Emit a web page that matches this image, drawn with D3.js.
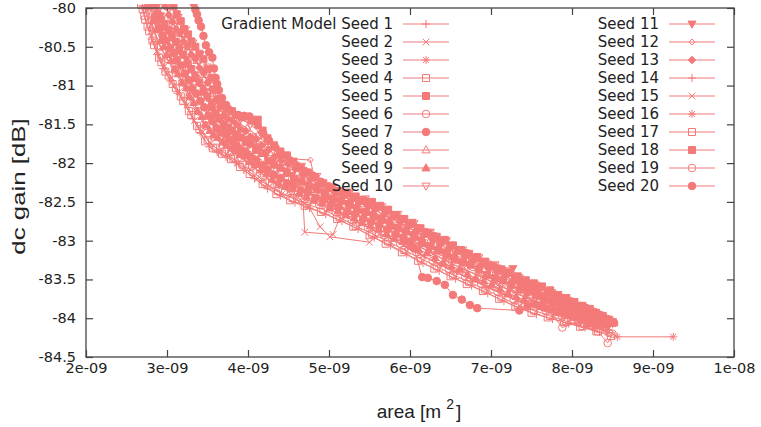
<!DOCTYPE html>
<html>
<head>
<meta charset="utf-8">
<script src="https://cdn.jsdelivr.net/npm/d3@7"></script>
<style>
  html, body { margin: 0; padding: 0; background: #fff; }
  svg { display: block; }
</style>
</head>
<body>
<svg id="chart" width="761" height="427"></svg>
<script>
// Each seed: optimisation trajectory, [area in 1e-9 m^2, dc gain in dB]
const seed1 = [[2.78,-79.95],[2.86,-80.18],[2.95,-80.37],[3.03,-80.5],[3.12,-80.66],[3.21,-80.81],[3.29,-80.95],[3.38,-81.15],[3.47,-81.28],[3.57,-81.47],[3.66,-81.6],[3.77,-81.67],[3.88,-81.78],[3.99,-81.85],[4.12,-81.95],[4.27,-82.1],[4.41,-82.19],[4.58,-82.28],[4.76,-82.38],[4.95,-82.47],[5.14,-82.57],[5.33,-82.66],[5.52,-82.74],[5.72,-82.85],[5.93,-82.94],[6.12,-83.04],[6.31,-83.16],[6.52,-83.24],[6.73,-83.33],[6.94,-83.45],[7.14,-83.55],[7.36,-83.63],[7.57,-83.72],[7.78,-83.82],[7.98,-83.9],[8.18,-83.97],[8.33,-84.05]];
const seed2 = [[2.72,-79.98],[2.8,-80.3],[2.88,-80.55],[2.97,-80.75],[3.06,-80.9],[3.15,-81.08],[3.25,-81.25],[3.34,-81.45],[3.44,-81.6],[3.54,-81.75],[3.65,-81.84],[3.76,-81.9],[3.87,-82.0],[3.98,-82.08],[4.12,-82.2],[4.26,-82.3],[4.42,-82.4],[4.6,-82.47],[4.75,-82.56],[4.89,-82.82],[5.01,-82.95],[5.5,-83.02],[5.62,-82.92],[5.78,-82.98],[5.96,-83.08],[6.16,-83.2],[6.36,-83.3],[6.57,-83.4],[6.77,-83.5],[6.98,-83.6],[7.18,-83.7],[7.39,-83.8],[7.59,-83.87],[7.8,-83.94],[8.01,-84.02],[8.22,-84.09],[8.4,-84.16]];
const seed3 = [[2.96,-79.95],[3.05,-80.14],[3.14,-80.29],[3.24,-80.47],[3.33,-80.63],[3.43,-80.8],[3.52,-80.97],[3.62,-81.23],[3.72,-81.4],[3.83,-81.47],[3.94,-81.57],[4.06,-81.65],[4.2,-81.76],[4.36,-81.92],[4.52,-82.04],[4.7,-82.17],[4.9,-82.3],[5.1,-82.41],[5.3,-82.48],[5.5,-82.57],[5.7,-82.68],[5.9,-82.79],[6.1,-82.9],[6.3,-83.01],[6.5,-83.12],[6.7,-83.22],[6.9,-83.32],[7.1,-83.42],[7.3,-83.52],[7.5,-83.61],[7.7,-83.7],[7.9,-83.79],[8.1,-83.88],[8.28,-83.97],[8.44,-84.05]];
const seed4 = [[2.68,-79.96],[2.72,-80.1],[2.76,-80.24],[2.82,-80.42],[2.9,-80.64],[2.98,-80.82],[3.07,-80.98],[3.17,-81.14],[3.27,-81.33],[3.37,-81.52],[3.47,-81.72],[3.57,-81.81],[3.68,-81.88],[3.79,-81.95],[3.9,-82.05],[4.02,-82.14],[4.18,-82.27],[4.35,-82.4],[4.52,-82.48],[4.7,-82.55],[4.9,-82.63],[5.1,-82.72],[5.3,-82.82],[5.5,-82.93],[5.7,-83.04],[5.9,-83.15],[6.1,-83.26],[6.3,-83.36],[6.5,-83.46],[6.7,-83.56],[6.9,-83.65],[7.1,-83.75],[7.3,-83.85],[7.5,-83.93],[7.7,-83.99],[7.9,-84.05],[8.1,-84.11],[8.3,-84.17]];
const seed5 = [[2.84,-79.96],[2.88,-80.08],[2.93,-80.15],[2.97,-80.24],[3.02,-80.28],[3.06,-80.38],[3.11,-80.44],[3.15,-80.55],[3.2,-80.6],[3.25,-80.72],[3.3,-80.79],[3.35,-80.9],[3.4,-80.96],[3.45,-81.08],[3.5,-81.14],[3.55,-81.28],[3.6,-81.37],[3.65,-81.42],[3.7,-81.52],[3.75,-81.54],[3.8,-81.59],[3.85,-81.65],[3.91,-81.67],[3.97,-81.73],[4.03,-81.75],[4.1,-81.83],[4.17,-81.87],[4.25,-81.97],[4.32,-82.02],[4.4,-82.06],[4.48,-82.13],[4.57,-82.2],[4.66,-82.24],[4.75,-82.3],[4.85,-82.34],[4.95,-82.42],[5.05,-82.46],[5.15,-82.49],[5.25,-82.54],[5.35,-82.6],[5.45,-82.63],[5.55,-82.69],[5.65,-82.73],[5.75,-82.8],[5.85,-82.84],[5.95,-82.88],[6.05,-82.95],[6.15,-83.03],[6.25,-83.07],[6.35,-83.12],[6.45,-83.18],[6.55,-83.24],[6.65,-83.28],[6.75,-83.31],[6.85,-83.37],[6.95,-83.44],[7.05,-83.48],[7.15,-83.51],[7.25,-83.57],[7.35,-83.63],[7.45,-83.66],[7.55,-83.7],[7.65,-83.75],[7.75,-83.8],[7.85,-83.83],[7.95,-83.86],[8.05,-83.91],[8.15,-83.97],[8.25,-83.99],[8.33,-84.03],[8.42,-84.08]];
const seed6 = [[2.76,-79.98],[2.83,-80.25],[2.92,-80.5],[3.01,-80.66],[3.1,-80.8],[3.19,-80.96],[3.28,-81.14],[3.38,-81.33],[3.48,-81.52],[3.58,-81.66],[3.69,-81.77],[3.8,-81.85],[3.92,-81.94],[4.05,-82.04],[4.2,-82.16],[4.36,-82.29],[4.53,-82.37],[4.7,-82.46],[4.88,-82.54],[5.08,-82.63],[5.28,-82.73],[5.48,-82.83],[5.68,-82.93],[5.88,-83.04],[6.08,-83.15],[6.28,-83.26],[6.48,-83.37],[6.68,-83.46],[6.88,-83.56],[7.08,-83.66],[7.28,-83.76],[7.48,-83.84],[7.68,-83.91],[7.88,-83.98],[8.08,-84.04],[8.26,-84.1],[8.46,-84.19]];
const seed7 = [[2.8,-79.96],[2.85,-80.12],[2.9,-80.26],[2.95,-80.36],[2.99,-80.42],[3.04,-80.52],[3.08,-80.58],[3.12,-80.68],[3.17,-80.74],[3.22,-80.85],[3.27,-80.93],[3.31,-81.04],[3.36,-81.1],[3.41,-81.2],[3.46,-81.28],[3.51,-81.39],[3.56,-81.46],[3.61,-81.55],[3.66,-81.6],[3.71,-81.62],[3.76,-81.69],[3.81,-81.72],[3.86,-81.77],[3.91,-81.83],[3.97,-81.85],[4.03,-81.92],[4.1,-81.96],[4.17,-82.03],[4.24,-82.08],[4.32,-82.15],[4.4,-82.2],[4.48,-82.26],[4.56,-82.29],[4.65,-82.35],[4.74,-82.38],[4.83,-82.45],[4.93,-82.48],[5.02,-82.54],[5.12,-82.57],[5.22,-82.63],[5.32,-82.66],[5.42,-82.72],[5.52,-82.76],[5.62,-82.8],[5.72,-82.86],[5.82,-82.92],[5.92,-82.97],[5.99,-83.02],[6.05,-83.1],[6.15,-83.47],[6.22,-83.48],[6.33,-83.52],[6.43,-83.57],[6.53,-83.7],[6.64,-83.76],[6.74,-83.83],[6.83,-83.87],[7.35,-83.9],[7.45,-83.85],[7.55,-83.82],[7.65,-83.86],[7.75,-83.87],[7.85,-83.92],[7.95,-83.95],[8.05,-83.97],[8.15,-84.01],[8.24,-84.06],[8.32,-84.08]];
const seed8 = [[3.0,-79.97],[3.09,-80.16],[3.18,-80.33],[3.27,-80.5],[3.37,-80.68],[3.46,-80.86],[3.56,-81.1],[3.66,-81.3],[3.76,-81.42],[3.87,-81.47],[3.99,-81.55],[4.12,-81.65],[4.27,-81.79],[4.43,-81.93],[4.6,-82.05],[4.79,-82.18],[4.98,-82.32],[5.18,-82.41],[5.38,-82.49],[5.58,-82.58],[5.78,-82.69],[5.98,-82.8],[6.18,-82.91],[6.38,-83.02],[6.58,-83.14],[6.78,-83.24],[6.98,-83.33],[7.18,-83.43],[7.38,-83.52],[7.58,-83.61],[7.78,-83.71],[7.98,-83.8],[8.18,-83.89],[8.36,-83.98],[8.52,-84.06]];
const seed9 = [[2.78,-79.98],[2.83,-80.16],[2.87,-80.28],[2.92,-80.42],[2.96,-80.5],[3.0,-80.6],[3.05,-80.68],[3.1,-80.79],[3.14,-80.85],[3.19,-80.96],[3.24,-81.03],[3.28,-81.14],[3.33,-81.22],[3.38,-81.33],[3.43,-81.4],[3.48,-81.51],[3.53,-81.58],[3.58,-81.64],[3.63,-81.67],[3.69,-81.73],[3.74,-81.76],[3.8,-81.81],[3.85,-81.84],[3.9,-81.89],[3.96,-81.91],[4.02,-81.98],[4.09,-82.02],[4.16,-82.09],[4.23,-82.14],[4.3,-82.21],[4.38,-82.26],[4.46,-82.3],[4.55,-82.33],[4.63,-82.39],[4.72,-82.43],[4.81,-82.48],[4.91,-82.51],[5.01,-82.58],[5.11,-82.61],[5.21,-82.67],[5.31,-82.71],[5.41,-82.77],[5.51,-82.81],[5.61,-82.85],[5.71,-82.91],[5.81,-82.97],[5.91,-83.01],[6.01,-83.07],[6.11,-83.12],[6.21,-83.16],[6.31,-83.22],[6.41,-83.29],[6.51,-83.33],[6.61,-83.37],[6.71,-83.43],[6.81,-83.49],[6.91,-83.52],[7.01,-83.57],[7.11,-83.62],[7.21,-83.68],[7.31,-83.72],[7.41,-83.76],[7.51,-83.81],[7.61,-83.85],[7.71,-83.88],[7.81,-83.93],[7.91,-83.95],[8.01,-83.99],[8.11,-84.02],[8.2,-84.07],[8.3,-84.1]];
const seed10 = [[3.06,-79.97],[3.14,-80.12],[3.23,-80.28],[3.32,-80.45],[3.41,-80.6],[3.5,-80.76],[3.6,-81.05],[3.7,-81.27],[3.8,-81.33],[3.91,-81.43],[4.03,-81.5],[4.17,-81.63],[4.32,-81.78],[4.48,-81.92],[4.66,-82.04],[4.85,-82.17],[5.05,-82.31],[5.25,-82.39],[5.45,-82.46],[5.65,-82.56],[5.85,-82.66],[6.05,-82.78],[6.25,-82.89],[6.45,-83.0],[6.65,-83.12],[6.85,-83.22],[6.95,-83.3],[7.05,-83.31],[7.15,-83.4],[7.35,-83.48],[7.55,-83.57],[7.75,-83.67],[7.95,-83.77],[8.15,-83.86],[8.33,-83.95],[8.5,-84.04]];
const seed11 = [[2.88,-79.97],[2.92,-80.1],[2.97,-80.2],[3.01,-80.29],[3.06,-80.34],[3.1,-80.44],[3.15,-80.5],[3.19,-80.6],[3.24,-80.66],[3.29,-80.78],[3.34,-80.86],[3.39,-80.96],[3.44,-81.03],[3.49,-81.15],[3.54,-81.22],[3.59,-81.35],[3.64,-81.43],[3.69,-81.5],[3.74,-81.55],[3.8,-81.57],[3.85,-81.62],[3.9,-81.67],[3.96,-81.69],[4.02,-81.76],[4.08,-81.78],[4.15,-81.86],[4.22,-81.9],[4.3,-81.99],[4.38,-82.06],[4.46,-82.1],[4.54,-82.16],[4.63,-82.23],[4.72,-82.27],[4.82,-82.31],[4.92,-82.37],[5.02,-82.45],[5.12,-82.49],[5.22,-82.52],[5.32,-82.57],[5.42,-82.63],[5.52,-82.66],[5.62,-82.71],[5.72,-82.76],[5.82,-82.83],[5.92,-82.88],[6.02,-82.92],[6.12,-82.99],[6.22,-83.06],[6.32,-83.11],[6.42,-83.15],[6.52,-83.21],[6.62,-83.27],[6.72,-83.31],[6.86,-83.36],[6.99,-83.32],[7.27,-83.36],[7.34,-83.55],[7.42,-83.6],[7.5,-83.64],[7.6,-83.71],[7.7,-83.76],[7.8,-83.79],[7.9,-83.84],[8.0,-83.89],[8.1,-83.92],[8.19,-83.97],[8.28,-84.01],[8.37,-84.05],[8.45,-84.1]];
const seed12 = [[2.82,-79.97],[2.92,-80.3],[3.01,-80.47],[3.11,-80.63],[3.2,-80.79],[3.3,-80.99],[3.39,-81.14],[3.49,-81.32],[3.59,-81.5],[3.69,-81.63],[3.79,-81.7],[3.9,-81.8],[4.01,-81.88],[4.14,-81.98],[4.28,-82.12],[4.45,-81.94],[4.77,-81.96],[4.87,-82.42],[5.06,-82.53],[5.26,-82.63],[5.46,-82.72],[5.66,-82.83],[5.86,-82.93],[6.06,-83.05],[6.26,-83.16],[6.46,-83.27],[6.66,-83.37],[6.86,-83.46],[7.06,-83.56],[7.26,-83.66],[7.46,-83.75],[7.66,-83.83],[7.86,-83.9],[8.06,-83.98],[8.24,-84.04],[8.42,-84.13]];
const seed13 = [[2.98,-79.98],[3.02,-80.09],[3.07,-80.18],[3.11,-80.27],[3.16,-80.33],[3.2,-80.43],[3.25,-80.5],[3.3,-80.6],[3.35,-80.66],[3.4,-80.77],[3.45,-80.84],[3.5,-80.96],[3.55,-81.05],[3.6,-81.18],[3.65,-81.28],[3.7,-81.38],[3.75,-81.43],[3.8,-81.45],[3.86,-81.5],[3.91,-81.56],[3.97,-81.59],[4.03,-81.66],[4.1,-81.69],[4.17,-81.77],[4.25,-81.83],[4.33,-81.91],[4.41,-81.97],[4.49,-82.01],[4.58,-82.08],[4.67,-82.15],[4.77,-82.21],[4.87,-82.27],[4.97,-82.35],[5.07,-82.38],[5.17,-82.43],[5.27,-82.48],[5.37,-82.51],[5.47,-82.55],[5.57,-82.6],[5.67,-82.67],[5.77,-82.71],[5.87,-82.76],[5.97,-82.82],[6.07,-82.88],[6.17,-82.93],[6.27,-82.98],[6.37,-83.05],[6.47,-83.11],[6.57,-83.16],[6.67,-83.2],[6.77,-83.26],[6.87,-83.32],[6.97,-83.36],[7.07,-83.4],[7.17,-83.46],[7.27,-83.51],[7.37,-83.55],[7.47,-83.58],[7.57,-83.63],[7.67,-83.69],[7.77,-83.73],[7.87,-83.77],[7.97,-83.82],[8.07,-83.87],[8.17,-83.91],[8.26,-83.95],[8.35,-83.99],[8.43,-84.03],[8.5,-84.07]];
const seed14 = [[2.7,-79.97],[2.75,-80.2],[2.81,-80.4],[2.88,-80.6],[2.95,-80.78],[3.04,-80.94],[3.13,-81.1],[3.22,-81.24],[3.32,-81.43],[3.42,-81.62],[3.52,-81.79],[3.62,-81.86],[3.73,-81.92],[3.84,-81.99],[3.95,-82.09],[4.08,-82.2],[4.24,-82.33],[4.4,-82.42],[4.58,-82.51],[4.76,-82.58],[4.96,-82.66],[5.16,-82.75],[5.36,-82.85],[5.56,-82.96],[5.76,-83.06],[5.96,-83.17],[6.16,-83.29],[6.36,-83.39],[6.56,-83.49],[6.76,-83.58],[6.96,-83.68],[7.16,-83.78],[7.36,-83.87],[7.56,-83.95],[7.76,-84.01],[7.96,-84.07],[8.16,-84.12],[8.34,-84.18]];
const seed15 = [[2.74,-79.97],[2.81,-80.22],[2.89,-80.45],[2.99,-80.65],[3.08,-80.79],[3.18,-80.97],[3.27,-81.16],[3.36,-81.33],[3.46,-81.5],[3.56,-81.64],[3.67,-81.75],[3.78,-81.83],[3.89,-81.9],[4.0,-81.99],[4.16,-82.13],[4.32,-82.25],[4.5,-82.37],[4.68,-82.5],[4.7,-82.89],[5.05,-82.92],[5.15,-82.66],[5.35,-82.76],[5.55,-82.86],[5.75,-82.97],[5.95,-83.08],[6.15,-83.19],[6.35,-83.3],[6.55,-83.4],[6.75,-83.5],[6.95,-83.6],[7.15,-83.69],[7.35,-83.78],[7.55,-83.77],[7.64,-83.68],[7.75,-83.67],[7.87,-83.78],[8.05,-84.02],[8.25,-84.09],[8.45,-84.18]];
const seed16 = [[2.85,-79.98],[2.94,-80.32],[3.04,-80.5],[3.13,-80.66],[3.23,-80.84],[3.32,-81.02],[3.42,-81.2],[3.52,-81.38],[3.62,-81.55],[3.72,-81.66],[3.83,-81.74],[3.93,-81.81],[4.05,-81.9],[4.19,-82.02],[4.34,-82.15],[4.5,-82.24],[4.68,-82.34],[4.86,-82.44],[5.04,-82.52],[5.24,-82.62],[5.44,-82.71],[5.64,-82.81],[5.84,-82.92],[6.04,-83.03],[6.24,-83.14],[6.44,-83.25],[6.64,-83.36],[6.84,-83.44],[7.04,-83.54],[7.24,-83.64],[7.44,-83.73],[7.64,-83.81],[7.84,-83.89],[8.04,-83.97],[8.24,-84.05],[8.42,-84.16],[8.56,-84.24],[9.25,-84.24]];
const seed17 = [[2.7,-80.02],[2.73,-80.15],[2.78,-80.3],[2.84,-80.48],[2.93,-80.7],[3.02,-80.87],[3.11,-81.03],[3.2,-81.2],[3.3,-81.38],[3.4,-81.56],[3.5,-81.7],[3.6,-81.8],[3.71,-81.86],[3.82,-81.94],[3.93,-82.02],[4.06,-82.11],[4.21,-82.25],[4.37,-82.36],[4.55,-82.45],[4.73,-82.53],[4.93,-82.6],[5.13,-82.7],[5.33,-82.81],[5.53,-82.91],[5.73,-83.01],[5.93,-83.12],[6.13,-83.23],[6.33,-83.33],[6.53,-83.44],[6.73,-83.53],[6.93,-83.63],[7.13,-83.73],[7.33,-83.83],[7.53,-83.9],[7.73,-83.97],[7.93,-84.04],[8.13,-84.1],[8.32,-84.17],[8.48,-84.23]];
const seed18 = [[3.08,-79.98],[3.12,-80.08],[3.17,-80.17],[3.21,-80.27],[3.26,-80.34],[3.3,-80.43],[3.35,-80.5],[3.4,-80.59],[3.45,-80.66],[3.5,-80.79],[3.55,-80.9],[3.6,-81.05],[3.65,-81.17],[3.7,-81.26],[3.75,-81.31],[3.8,-81.33],[3.85,-81.38],[3.92,-81.41],[3.99,-81.4],[4.05,-81.45],[4.12,-81.44],[4.18,-81.58],[4.24,-81.68],[4.32,-81.77],[4.4,-81.85],[4.48,-81.9],[4.56,-81.98],[4.65,-82.06],[4.74,-82.12],[4.83,-82.18],[4.93,-82.26],[5.03,-82.32],[5.13,-82.36],[5.23,-82.38],[5.33,-82.43],[5.43,-82.48],[5.53,-82.5],[5.63,-82.55],[5.73,-82.6],[5.83,-82.67],[5.93,-82.72],[6.03,-82.77],[6.13,-82.84],[6.23,-82.9],[6.33,-82.95],[6.43,-82.99],[6.53,-83.06],[6.63,-83.12],[6.73,-83.17],[6.83,-83.21],[6.93,-83.27],[7.03,-83.33],[7.13,-83.37],[7.23,-83.41],[7.33,-83.46],[7.43,-83.51],[7.53,-83.55],[7.63,-83.59],[7.73,-83.64],[7.83,-83.7],[7.93,-83.74],[8.03,-83.79],[8.13,-83.84],[8.22,-83.88],[8.3,-83.93],[8.38,-83.97],[8.46,-84.02]];
const seed19 = [[2.9,-79.98],[2.99,-80.22],[3.08,-80.38],[3.17,-80.54],[3.26,-80.71],[3.36,-80.9],[3.46,-81.07],[3.56,-81.27],[3.66,-81.48],[3.76,-81.56],[3.87,-81.64],[3.98,-81.72],[4.11,-81.82],[4.26,-81.95],[4.42,-82.1],[4.6,-82.21],[4.79,-82.31],[4.98,-82.43],[5.18,-82.52],[5.38,-82.6],[5.58,-82.7],[5.78,-82.81],[5.98,-82.92],[6.18,-83.03],[6.38,-83.14],[6.58,-83.25],[6.78,-83.34],[6.98,-83.44],[7.18,-83.54],[7.38,-83.63],[7.58,-83.71],[7.88,-84.12],[8.08,-84.05],[8.28,-84.12],[8.44,-84.32],[8.5,-84.2]];
const seed20 = [[3.33,-79.94],[3.35,-80.02],[3.37,-80.08],[3.39,-80.16],[3.42,-80.24],[3.45,-80.36],[3.48,-80.48],[3.52,-80.57],[3.56,-80.64],[3.58,-80.78],[3.6,-80.9],[3.62,-80.98],[3.64,-81.06],[3.68,-81.16],[3.73,-81.25],[3.8,-81.33],[3.88,-81.38],[3.95,-81.39],[4.02,-81.4],[4.07,-81.45],[4.12,-81.51],[4.19,-81.62],[4.26,-81.71],[4.34,-81.8],[4.42,-81.9],[4.51,-81.96],[4.6,-82.03],[4.7,-82.1],[4.8,-82.16],[4.9,-82.24],[5.0,-82.3],[5.1,-82.36],[5.2,-82.4],[5.3,-82.45],[5.4,-82.48],[5.5,-82.53],[5.6,-82.56],[5.7,-82.62],[5.8,-82.67],[5.9,-82.72],[6.0,-82.78],[6.1,-82.84],[6.2,-82.89],[6.3,-82.94],[6.4,-83.0],[6.5,-83.07],[6.6,-83.12],[6.7,-83.16],[6.8,-83.22],[6.9,-83.28],[7.0,-83.32],[7.1,-83.36],[7.2,-83.42],[7.3,-83.48],[7.4,-83.52],[7.5,-83.56],[7.6,-83.61],[7.7,-83.66],[7.8,-83.7],[7.9,-83.74],[8.0,-83.79],[8.1,-83.84],[8.2,-83.88],[8.28,-83.92],[8.36,-83.97],[8.44,-84.01],[8.52,-84.06]];

const seriesNames = ["Gradient Model Seed 1", "Seed 2", "Seed 3", "Seed 4", "Seed 5",
  "Seed 6", "Seed 7", "Seed 8", "Seed 9", "Seed 10", "Seed 11", "Seed 12", "Seed 13",
  "Seed 14", "Seed 15", "Seed 16", "Seed 17", "Seed 18", "Seed 19", "Seed 20"];

const xTickValues = [2, 3, 4, 5, 6, 7, 8, 9, 10];
const xTickLabels = ["2e-09", "3e-09", "4e-09", "5e-09", "6e-09", "7e-09", "8e-09", "9e-09", "1e-08"];
const yTickValues = [-80, -80.5, -81, -81.5, -82, -82.5, -83, -83.5, -84, -84.5];
const yTickLabels = ["-80", "-80.5", "-81", "-81.5", "-82", "-82.5", "-83", "-83.5", "-84", "-84.5"];

const seeds = [seed1, seed2, seed3, seed4, seed5, seed6, seed7, seed8, seed9, seed10,
  seed11, seed12, seed13, seed14, seed15, seed16, seed17, seed18, seed19, seed20];

// gnuplot point types 1..13, then cycling back to 1
const pointTypes = ["plus", "cross", "star", "square", "squareFill", "circle", "circleFill",
  "triUp", "triUpFill", "triDown", "triDownFill", "diamond", "diamondFill",
  "plus", "cross", "star", "square", "squareFill", "circle", "circleFill"];

const COLOR = "#f47a7a";
const INK = "#222";
const TICK_FONT = "'DejaVu Sans', Verdana, sans-serif";
const TITLE_FONT = "'Liberation Sans', Arial, sans-serif";

const plot = { left: 86, right: 734, top: 8, bottom: 357 };
const x = d3.scaleLinear().domain([2, 10]).range([plot.left, plot.right]);
const y = d3.scaleLinear().domain([-84.5, -80]).range([plot.bottom, plot.top]);

const svg = d3.select("#chart");

function pointPath(type) {
  switch (type) {
    case "plus": return "M-4,0H4M0,-4V4";
    case "cross": return "M-3.4,-3.4L3.4,3.4M-3.4,3.4L3.4,-3.4";
    case "star": return "M-4,0H4M0,-4V4M-3,-3L3,3M-3,3L3,-3";
    case "square": case "squareFill": return "M-3.5,-3.5H3.5V3.5H-3.5Z";
    case "circle": case "circleFill":
      return "M3.8,0A3.8,3.8 0 1,1 -3.8,0A3.8,3.8 0 1,1 3.8,0Z";
    case "triUp": case "triUpFill": return "M0,-4.2L4,2.9L-4,2.9Z";
    case "triDown": case "triDownFill": return "M0,4.2L4,-2.9L-4,-2.9Z";
    case "diamond": return "M0,-3L3,0L0,3L-3,0Z";
    case "diamondFill": return "M0,-3.8L3.8,0L0,3.8L-3.8,0Z";
  }
}
const isFilled = t => t.endsWith("Fill");

function drawPoint(g, type, px, py) {
  g.append("path")
    .attr("d", pointPath(type))
    .attr("transform", `translate(${px},${py})`)
    .attr("fill", isFilled(type) ? COLOR : "none")
    .attr("stroke", COLOR)
    .attr("stroke-width", 1);
}

// clip region for the data
svg.append("defs").append("clipPath").attr("id", "plotClip")
  .append("rect")
  .attr("x", plot.left).attr("y", plot.top - 4)
  .attr("width", plot.right - plot.left).attr("height", plot.bottom - plot.top + 4);

// axes: inward ticks on all four sides, labels on bottom and left
function styleAxis(g) {
  g.select(".domain").remove();
  g.selectAll(".tick line").attr("stroke", "#444").attr("stroke-width", 1.2);
  g.selectAll(".tick text").attr("fill", INK)
    .style("font-family", TICK_FONT).style("font-size", "14.5px");
}

svg.append("g").attr("transform", `translate(0,${plot.bottom})`)
  .call(d3.axisBottom(x).tickValues(xTickValues)
    .tickFormat((d, i) => xTickLabels[i]).tickSize(-7).tickPadding(6))
  .call(styleAxis);
svg.append("g").attr("transform", `translate(0,${plot.top})`)
  .call(d3.axisTop(x).tickValues(xTickValues).tickFormat("").tickSize(-7))
  .call(styleAxis);
svg.append("g").attr("transform", `translate(${plot.left},0)`)
  .call(d3.axisLeft(y).tickValues(yTickValues)
    .tickFormat((d, i) => yTickLabels[i]).tickSize(-7).tickPadding(10))
  .call(styleAxis)
  .call(g => g.selectAll(".tick text").attr("dy", "0.3em"));
svg.append("g").attr("transform", `translate(${plot.right},0)`)
  .call(d3.axisRight(y).tickValues(yTickValues).tickFormat("").tickSize(-7))
  .call(styleAxis);

// axis titles
svg.append("text")
  .attr("transform", "translate(25,186.5) rotate(-90) scale(1.36,1)")
  .attr("text-anchor", "middle")
  .attr("fill", INK)
  .style("font-family", TITLE_FONT).style("font-size", "19px")
  .text("dc gain [dB]");

const xTitle = svg.append("text")
  .attr("x", 419).attr("y", 418)
  .attr("text-anchor", "middle")
  .attr("fill", INK)
  .style("font-family", TITLE_FONT).style("font-size", "19px");
xTitle.append("tspan").text("area [m");
xTitle.append("tspan").attr("dx", 5).attr("dy", -9).style("font-size", "14px").text("2");
xTitle.append("tspan").attr("dx", 2).attr("dy", 9).text("]");

// key entry followed by its series, in gnuplot's drawing order
const line = d3.line().x(d => x(d[0])).y(d => y(d[1]));
const dataLayer = svg.append("g").attr("clip-path", "url(#plotClip)");

seeds.forEach((data, i) => {
  const col = i < 10 ? 0 : 1;
  const row = i % 10;
  const ky = 24 + 18 * row;
  const textRight = col === 0 ? 393 : 659;
  const lineStart = col === 0 ? 403 : 669;
  const lineEnd = lineStart + 46;

  const key = svg.append("g");
  key.append("text")
    .attr("x", textRight).attr("y", ky + 5.3)
    .attr("text-anchor", "end")
    .attr("fill", INK)
    .style("font-family", TICK_FONT).style("font-size", "15px")
    .text(seriesNames[i]);
  key.append("line")
    .attr("x1", lineStart).attr("x2", lineEnd)
    .attr("y1", ky).attr("y2", ky)
    .attr("stroke", COLOR).attr("stroke-width", 1);
  drawPoint(key, pointTypes[i], (lineStart + lineEnd) / 2, ky);

  const g = dataLayer.append("g");
  g.append("path")
    .datum(data)
    .attr("d", line)
    .attr("fill", "none")
    .attr("stroke", COLOR)
    .attr("stroke-width", 1);
  data.forEach(d => drawPoint(g, pointTypes[i], x(d[0]), y(d[1])));
});

// plot border
svg.append("rect")
  .attr("x", plot.left).attr("y", plot.top)
  .attr("width", plot.right - plot.left).attr("height", plot.bottom - plot.top)
  .attr("fill", "none").attr("stroke", "#444").attr("stroke-width", 1.3);
</script>
</body>
</html>
